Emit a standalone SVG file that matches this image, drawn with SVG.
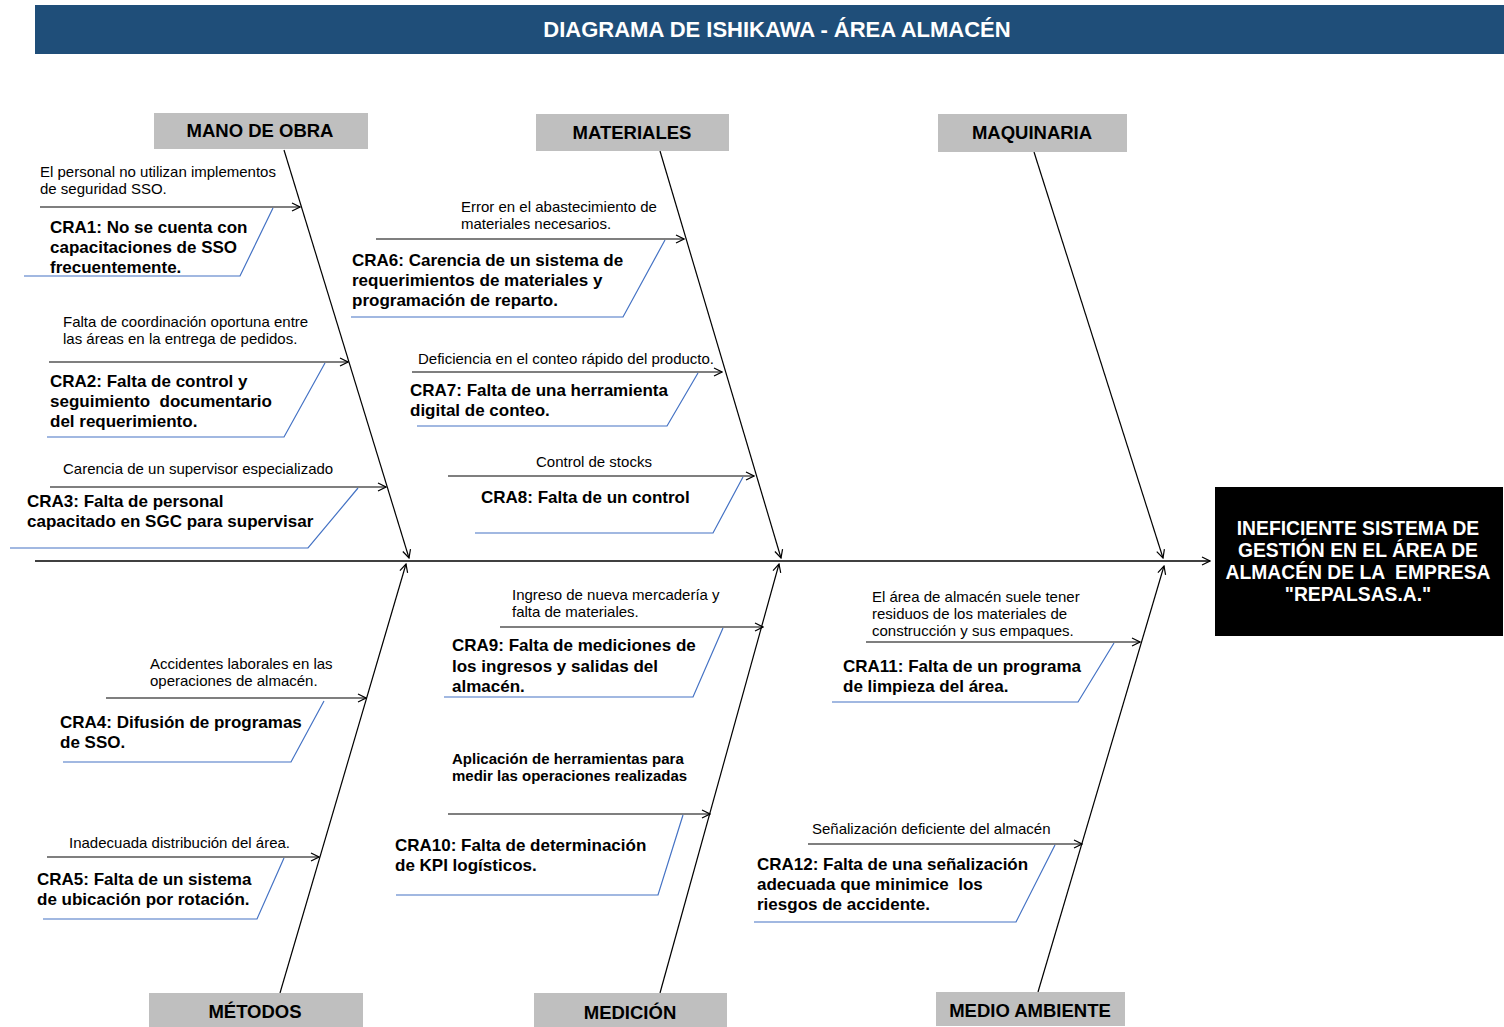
<svg xmlns="http://www.w3.org/2000/svg" width="1504" height="1027" viewBox="0 0 1504 1027">
  <style>
    text { font-family: "Liberation Sans", Arial, sans-serif; fill: #000; white-space: pre; }
    .title { font-size: 22px; font-weight: bold; fill: #fff; }
    .cat { fill: #BFBFBF; }
    .catlbl { font-size: 18.5px; font-weight: bold; text-anchor: middle; }
    .effect { fill: #000; }
    .efflbl { font-size: 19.3px; font-weight: bold; fill: #fff; text-anchor: middle; }
    .note { font-size: 15px; }
    .notebold { font-size: 15px; font-weight: bold; }
    .cause { font-size: 17px; font-weight: bold; }
    .frame { fill: none; stroke: #4472C4; stroke-width: 1.2; }
    .arrow { fill: none; stroke: #000; stroke-width: 1.2; marker-end: url(#open); }
    .bone { fill: none; stroke: #000; stroke-width: 1.2; marker-end: url(#open); }
    .spine { fill: none; stroke: #000; stroke-width: 1.6; marker-end: url(#open); }
  </style>
  <defs>
    <marker id="open" viewBox="0 0 10 10" refX="9" refY="5" markerWidth="10" markerHeight="10" markerUnits="userSpaceOnUse" orient="auto">
      <path d="M1,1 L9,5 L1,9" fill="none" stroke="#000" stroke-width="1.2"/>
    </marker>
  </defs>

  <rect width="1504" height="1027" fill="#fff"/>

  <!-- header band -->
  <g id="title">
    <rect x="35" y="5" width="1469" height="49" fill="#1F4E79"/>
    <text class="title" x="777" y="37" text-anchor="middle">DIAGRAMA DE ISHIKAWA - ÁREA ALMACÉN</text>
  </g>

  <!-- spine, category bones and cause arrows -->
  <g id="connectors">
    <line class="spine" x1="35" y1="561" x2="1210" y2="561"/>
    <line class="bone" x1="284" y1="150" x2="409" y2="558"/>
    <line class="bone" x1="660" y1="151" x2="781" y2="558"/>
    <line class="bone" x1="1034" y1="152" x2="1163" y2="558"/>
    <line class="bone" x1="280" y1="993" x2="406" y2="564"/>
    <line class="bone" x1="660" y1="993" x2="779" y2="564"/>
    <line class="bone" x1="1038" y1="992" x2="1164" y2="566"/>

    <line class="arrow" x1="40" y1="207" x2="300" y2="207"/>
    <line class="arrow" x1="49" y1="362" x2="348" y2="362"/>
    <line class="arrow" x1="50" y1="487" x2="386" y2="487"/>
    <line class="arrow" x1="376" y1="239" x2="684" y2="239"/>
    <line class="arrow" x1="412" y1="372" x2="722" y2="372"/>
    <line class="arrow" x1="448" y1="476" x2="754" y2="476"/>
    <line class="arrow" x1="106" y1="698" x2="366" y2="698"/>
    <line class="arrow" x1="47" y1="857" x2="319" y2="857"/>
    <line class="arrow" x1="500" y1="627" x2="763" y2="627"/>
    <line class="arrow" x1="448" y1="814" x2="710" y2="814"/>
    <line class="arrow" x1="866" y1="642" x2="1140" y2="642"/>
    <line class="arrow" x1="808" y1="844" x2="1082" y2="844"/>
  </g>

  <!-- categories -->
  <g id="cat-mano-de-obra">
    <rect class="cat" x="154" y="113" width="214" height="36"/>
    <text class="catlbl" x="260" y="137">MANO DE OBRA</text>
  </g>
  <g id="cat-materiales">
    <rect class="cat" x="536" y="114" width="193" height="37"/>
    <text class="catlbl" x="632" y="139">MATERIALES</text>
  </g>
  <g id="cat-maquinaria">
    <rect class="cat" x="938" y="114" width="189" height="38"/>
    <text class="catlbl" x="1032" y="139">MAQUINARIA</text>
  </g>
  <g id="cat-metodos">
    <rect class="cat" x="149" y="993" width="214" height="34"/>
    <text class="catlbl" x="255" y="1018">MÉTODOS</text>
  </g>
  <g id="cat-medicion">
    <rect class="cat" x="534" y="993" width="193" height="34"/>
    <text class="catlbl" x="630" y="1019">MEDICIÓN</text>
  </g>
  <g id="cat-medio-ambiente">
    <rect class="cat" x="936" y="992" width="189" height="34"/>
    <text class="catlbl" x="1030" y="1017">MEDIO AMBIENTE</text>
  </g>

  <!-- effect -->
  <g id="effect">
    <rect class="effect" x="1215" y="487" width="288" height="149"/>
    <text class="efflbl" x="1358" y="535">INEFICIENTE SISTEMA DE</text>
    <text class="efflbl" x="1358" y="557">GESTIÓN EN EL ÁREA DE</text>
    <text class="efflbl" x="1358" y="579">ALMACÉN DE LA  EMPRESA</text>
    <text class="efflbl" x="1358" y="601">"REPALSAS.A."</text>
  </g>

  <!-- causes: mano de obra -->
  <g id="cra1">
    <text class="note" x="40" y="177">El personal no utilizan implementos</text>
    <text class="note" x="40" y="194">de seguridad SSO.</text>
    <polyline class="frame" points="273,208 240,276 24,276"/>
    <text class="cause" x="50" y="233">CRA1: No se cuenta con</text>
    <text class="cause" x="50" y="253">capacitaciones de SSO</text>
    <text class="cause" x="50" y="273">frecuentemente.</text>
  </g>
  <g id="cra2">
    <text class="note" x="63" y="327">Falta de coordinación oportuna entre</text>
    <text class="note" x="63" y="344">las áreas en la entrega de pedidos.</text>
    <polyline class="frame" points="325,363 284,437 47,437"/>
    <text class="cause" x="50" y="387">CRA2: Falta de control y</text>
    <text class="cause" x="50" y="407">seguimiento  documentario</text>
    <text class="cause" x="50" y="427">del requerimiento.</text>
  </g>
  <g id="cra3">
    <text class="note" x="63" y="474">Carencia de un supervisor especializado</text>
    <polyline class="frame" points="358,488 308,548 10,548"/>
    <text class="cause" x="27" y="507">CRA3: Falta de personal</text>
    <text class="cause" x="27" y="527">capacitado en SGC para supervisar</text>
  </g>

  <!-- causes: materiales -->
  <g id="cra6">
    <text class="note" x="461" y="212">Error en el abastecimiento de</text>
    <text class="note" x="461" y="229">materiales necesarios.</text>
    <polyline class="frame" points="665,240 623,317 351,317"/>
    <text class="cause" x="352" y="266">CRA6: Carencia de un sistema de</text>
    <text class="cause" x="352" y="286">requerimientos de materiales y</text>
    <text class="cause" x="352" y="306">programación de reparto.</text>
  </g>
  <g id="cra7">
    <text class="note" x="418" y="364">Deficiencia en el conteo rápido del producto.</text>
    <polyline class="frame" points="698,373 667,426 417,426"/>
    <text class="cause" x="410" y="396">CRA7: Falta de una herramienta</text>
    <text class="cause" x="410" y="416">digital de conteo.</text>
  </g>
  <g id="cra8">
    <text class="note" x="536" y="467">Control de stocks</text>
    <polyline class="frame" points="743,477 713,533 475,533"/>
    <text class="cause" x="481" y="503">CRA8: Falta de un control</text>
  </g>

  <!-- causes: métodos -->
  <g id="cra4">
    <text class="note" x="150" y="669">Accidentes laborales en las</text>
    <text class="note" x="150" y="686">operaciones de almacén.</text>
    <polyline class="frame" points="324,701 291,762 63,762"/>
    <text class="cause" x="60" y="728">CRA4: Difusión de programas</text>
    <text class="cause" x="60" y="748">de SSO.</text>
  </g>
  <g id="cra5">
    <text class="note" x="69" y="848">Inadecuada distribución del área.</text>
    <polyline class="frame" points="284,858 257,919 43,919"/>
    <text class="cause" x="37" y="885">CRA5: Falta de un sistema</text>
    <text class="cause" x="37" y="905">de ubicación por rotación.</text>
  </g>

  <!-- causes: medición -->
  <g id="cra9">
    <text class="note" x="512" y="600">Ingreso de nueva mercadería y</text>
    <text class="note" x="512" y="617">falta de materiales.</text>
    <polyline class="frame" points="723,628 693,697 444,697"/>
    <text class="cause" x="452" y="651">CRA9: Falta de mediciones de</text>
    <text class="cause" x="452" y="672">los ingresos y salidas del</text>
    <text class="cause" x="452" y="692">almacén.</text>
  </g>
  <g id="cra10">
    <text class="notebold" x="452" y="764">Aplicación de herramientas para</text>
    <text class="notebold" x="452" y="781">medir las operaciones realizadas</text>
    <polyline class="frame" points="683,815 658,895 396,895"/>
    <text class="cause" x="395" y="851">CRA10: Falta de determinación</text>
    <text class="cause" x="395" y="871">de KPI logísticos.</text>
  </g>

  <!-- causes: medio ambiente -->
  <g id="cra11">
    <text class="note" x="872" y="602">El área de almacén suele tener</text>
    <text class="note" x="872" y="619">residuos de los materiales de</text>
    <text class="note" x="872" y="636">construcción y sus empaques.</text>
    <polyline class="frame" points="1114,643 1078,702 832,702"/>
    <text class="cause" x="843" y="672">CRA11: Falta de un programa</text>
    <text class="cause" x="843" y="692">de limpieza del área.</text>
  </g>
  <g id="cra12">
    <text class="note" x="812" y="834">Señalización deficiente del almacén</text>
    <polyline class="frame" points="1055,845 1016,922 754,922"/>
    <text class="cause" x="757" y="870">CRA12: Falta de una señalización</text>
    <text class="cause" x="757" y="890">adecuada que minimice  los</text>
    <text class="cause" x="757" y="910">riesgos de accidente.</text>
  </g>
</svg>
